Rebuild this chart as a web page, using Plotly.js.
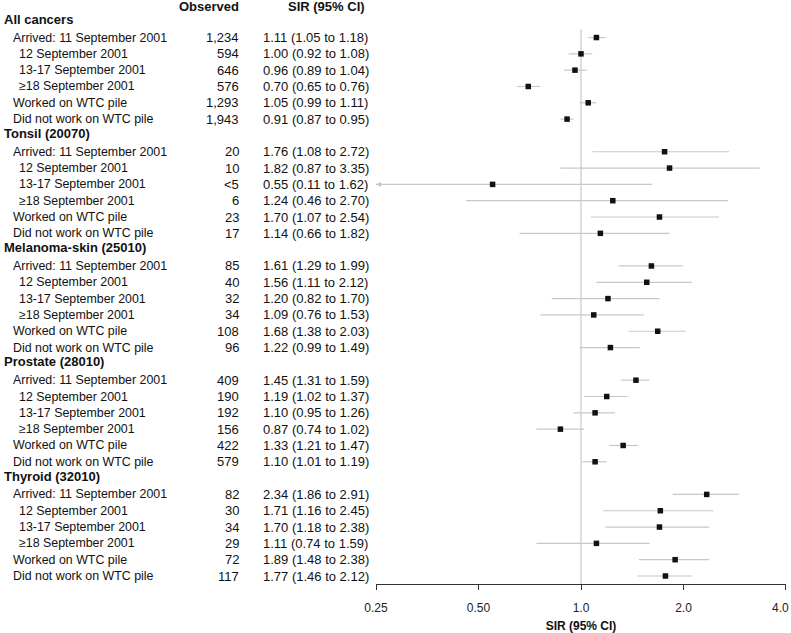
<!DOCTYPE html>
<html>
<head>
<meta charset="utf-8">
<script src="https://cdn.plot.ly/plotly-3.0.1.min.js"></script>
<style>html,body{margin:0;padding:0;background:#fff;}#chart{width:791px;height:633px;}</style>
</head>
<body>
<div id="chart"></div>
<script>
// ---- data ----
var groups = ["All cancers", "Tonsil (20070)", "Melanoma-skin (25010)", "Prostate (28010)", "Thyroid (32010)"];
var subLabels = ["Arrived: 11 September 2001", "12 September 2001", "13-17 September 2001", "\u226518 September 2001", "Worked on WTC pile", "Did not work on WTC pile"];
var subIndent = [1, 2, 2, 2, 1, 1];

var observedAll = ["1,234", "594", "646", "576", "1,293", "1,943"];
var observedTonsil = ["20", "10", "<5", "6", "23", "17"];
var observedMelanoma = ["85", "40", "32", "34", "108", "96"];
var observedProstate = ["409", "190", "192", "156", "422", "579"];
var observedThyroid = ["82", "30", "34", "29", "72", "117"];

var sirAll = [1.11, 1.00, 0.96, 0.70, 1.05, 0.91];
var loAll = [1.05, 0.92, 0.89, 0.65, 0.99, 0.87];
var hiAll = [1.18, 1.08, 1.04, 0.76, 1.11, 0.95];

var sirTonsil = [1.76, 1.82, 0.55, 1.24, 1.70, 1.14];
var loTonsil = [1.08, 0.87, 0.11, 0.46, 1.07, 0.66];
var hiTonsil = [2.72, 3.35, 1.62, 2.70, 2.54, 1.82];

var sirMelanoma = [1.61, 1.56, 1.20, 1.09, 1.68, 1.22];
var loMelanoma = [1.29, 1.11, 0.82, 0.76, 1.38, 0.99];
var hiMelanoma = [1.99, 2.12, 1.70, 1.53, 2.03, 1.49];

var sirProstate = [1.45, 1.19, 1.10, 0.87, 1.33, 1.10];
var loProstate = [1.31, 1.02, 0.95, 0.74, 1.21, 1.01];
var hiProstate = [1.59, 1.37, 1.26, 1.02, 1.47, 1.19];

var sirThyroid = [2.34, 1.71, 1.70, 1.11, 1.89, 1.77];
var loThyroid = [1.86, 1.16, 1.18, 0.74, 1.48, 1.46];
var hiThyroid = [2.91, 2.45, 2.38, 1.59, 2.38, 2.12];

var tickVals = [0.25, 0.5, 1, 2, 4];
var tickText = ["0.25", "0.50", "1.0", "2.0", "4.0"];

// ---- build ----
var observed = [observedAll, observedTonsil, observedMelanoma, observedProstate, observedThyroid];
var sir = [sirAll, sirTonsil, sirMelanoma, sirProstate, sirThyroid];
var lo = [loAll, loTonsil, loMelanoma, loProstate, loThyroid];
var hi = [hiAll, hiTonsil, hiMelanoma, hiProstate, hiThyroid];

var W = 791;
var plotL = 376, plotR = 786;
var xMin = 0.25, xMax = 4;
var eps = 1e-4;
var nRows = groups.length * (subLabels.length + 1);
var yTop = -1.30, yBot = nRows - 1 + 0.49;

var ptX = [], ptY = [], ciX = [], ciY = [], arX = [], arY = [];
var ann = [];
var FAM = "Liberation Sans, Arial, sans-serif";
var textFont = {family: FAM, size: 12.4, color: "#111"};
var numFont = {family: FAM, size: 13, color: "#111"};
var boldFont = {family: FAM, size: 13, color: "#111"};
var tickFont = {family: FAM, size: 12, color: "#222"};

function fmt(v) { return v.toFixed(2); }

var row = 0;
for (var g = 0; g < groups.length; g++) {
  ann.push({xref: "paper", yref: "y", x: 2 / W, y: row, xanchor: "left", yanchor: "middle",
            text: "<b>" + groups[g] + "</b>", showarrow: false, font: boldFont, yshift: 2});
  row++;
  for (var s = 0; s < subLabels.length; s++) {
    var indentPx = subIndent[s] === 1 ? 11 : 17;
    ann.push({xref: "paper", yref: "y", x: indentPx / W, y: row, xanchor: "left", yanchor: "middle",
              text: subLabels[s], showarrow: false, font: textFont});
    ann.push({xref: "paper", yref: "y", x: 241 / W, y: row, xanchor: "right", yanchor: "middle",
              text: observed[g][s].replace("<", "&lt;"), showarrow: false, font: numFont});
    ann.push({xref: "paper", yref: "y", x: 261 / W, y: row, xanchor: "left", yanchor: "middle",
              text: fmt(sir[g][s]) + " (" + fmt(lo[g][s]) + " to " + fmt(hi[g][s]) + ")",
              showarrow: false, font: numFont});
    ptX.push(sir[g][s]); ptY.push(row);
    ciX.push(lo[g][s], hi[g][s], null); ciY.push(row, row, null);
    if (lo[g][s] < xMin) { arX.push(xMin); arY.push(row); }
    row++;
  }
}
// column headers
ann.push({xref: "paper", yref: "y", x: 241 / W, y: -1, xanchor: "right", yanchor: "middle",
          text: "<b>Observed</b>", showarrow: false, font: boldFont, yshift: -2});
ann.push({xref: "paper", yref: "y", x: 326 / W, y: -1, xanchor: "center", yanchor: "middle",
          text: "<b>SIR (95% CI)</b>", showarrow: false, font: boldFont, yshift: -2});

// last tick label sits against the right edge: drawn right-anchored at its tick so it is not cut
var lastIdx = tickVals.length - 1;
var axisTickText = tickText.slice(0, lastIdx).concat([""]);
ann.push({xref: "x", yref: "paper", x: Math.log10(tickVals[lastIdx]), y: 0, xanchor: "right", yanchor: "middle",
          xshift: 5, yshift: -24, text: tickText[lastIdx], showarrow: false, font: tickFont});

var traces = [
  {type: "scatter", mode: "lines", x: ciX, y: ciY, line: {color: "#c8c8c8", width: 1.2},
   hoverinfo: "skip", showlegend: false, connectgaps: false},
  {type: "scatter", mode: "markers", x: arX, y: arY, cliponaxis: false,
   marker: {symbol: "arrow-left", size: 5, color: "#c8c8c8"}, hoverinfo: "skip", showlegend: false},
  {type: "scatter", mode: "markers", x: ptX, y: ptY,
   marker: {symbol: "square", size: 5.5, color: "#111"}, showlegend: false}
];

var layout = {
  width: 791, height: 633,
  margin: {l: 0, r: 0, t: 0, b: 49},
  paper_bgcolor: "#fff", plot_bgcolor: "#fff",
  showlegend: false,
  xaxis: {
    type: "log", domain: [plotL / W, plotR / W],
    range: [Math.log10(xMin) - eps, Math.log10(xMax) + eps],
    tickvals: tickVals, ticktext: axisTickText,
    ticklabeloverflow: "allow",
    showgrid: false, zeroline: false,
    showline: true, linecolor: "#333", linewidth: 1,
    ticks: "outside", ticklen: 5, tickcolor: "#333", tickwidth: 1,
    ticklabelstandoff: 8,
    tickfont: tickFont,
    title: {text: "<b>SIR (95% CI)</b>", standoff: 9,
            font: {family: FAM, size: 12, color: "#111"}}
  },
  yaxis: {range: [yBot, yTop], visible: false, showgrid: false, zeroline: false, fixedrange: true},
  shapes: [
    {type: "line", xref: "x", yref: "y", x0: 1, x1: 1, y0: 0.5, y1: yBot,
     line: {color: "#bdbdbd", width: 1}, layer: "below"}
  ],
  annotations: ann
};

Plotly.newPlot("chart", traces, layout, {displayModeBar: false, staticPlot: true});
</script>
</body>
</html>
